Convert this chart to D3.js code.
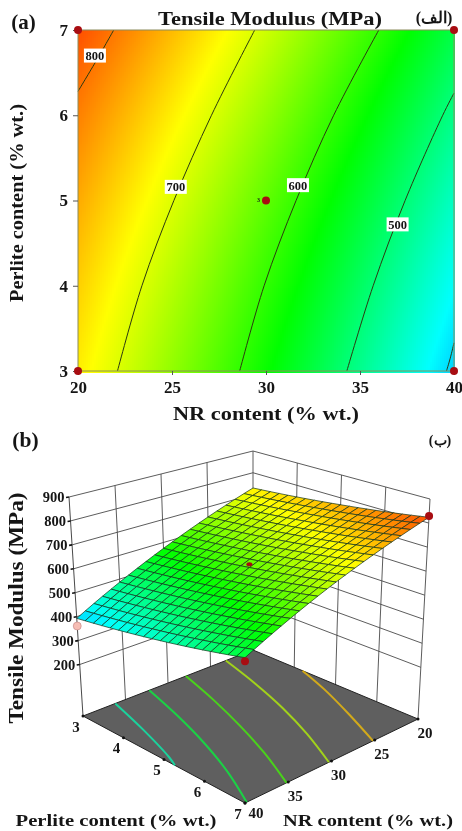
<!DOCTYPE html>
<html><head><meta charset="utf-8">
<script src="https://cdnjs.cloudflare.com/ajax/libs/d3/7.8.5/d3.min.js"></script>
<style>html,body{margin:0;padding:0;background:#fff;overflow:hidden}svg{display:block;filter:blur(0.35px)}text{font-family:"Liberation Serif",serif;font-weight:bold;fill:#151515}</style>
</head><body><svg id="c" width="462" height="831"></svg>
<script>
// ---- data ----
const nrValues=[20,25,30,35,40];
const perliteValues=[3,4,5,6,7];
const modulusP3=[730,655.5,574.5,487,393];
const modulusP4=[748,676.5,598.5,513.5,422];
const modulusP5=[770,701,626,543.5,454.5];
const modulusP6=[795,729,657,577,490.5];
const modulusP7=[824,760.5,691,614,530];
const modulusRows=[modulusP3,modulusP4,modulusP5,modulusP6,modulusP7];
const colorStops=[270,420,570,720,870];
const colorNames=["#0000ff","#00ffff","#00ff00","#ffff00","#ff0000"];
// contour lines of panel (a), [NR, perlite]
const contour800=[[21.9,7],[21.0,6.65],[20,6.28]];
const contour700=[[22.1,3],[23.4,4],[25.1,5],[27.1,6],[29.4,7]];
const contour600=[[28.6,3],[29.9,4],[31.6,5],[33.6,6],[36,7]];
const contour500=[[34.3,3],[35.7,4],[37.4,5],[39.4,6],[40,6.26]];
const contour400=[[39.6,3],[39.8,3.15],[40,3.33]];
const contourLines=[contour800,contour700,contour600,contour500,contour400];
const contourLabels=[["800",20.9,6.7],["700",25.2,5.16],["600",31.7,5.18],["500",37,4.72]];
const designPoints2D=[[20,7],[40,7],[20,3],[40,3],[30,5]];
// floor contours of panel (b), [NR, perlite]
const floorLevels=[464,536,608,680,753];
const floorLine464=[[36.2,3],[37.7,4],[39.4,5],[40,5.27]];
const floorLine536=[[32.2,3],[33.7,4],[35.4,5],[37.4,6],[39.8,7]];
const floorLine608=[[27.9,3],[29.4,4],[31.1,5],[33,6],[35.2,7]];
const floorLine680=[[23.2,3],[24.6,4],[26.2,5],[28.1,6],[30.3,7]];
const floorLine753=[[20,4.2],[21.3,5],[23.2,6],[25.2,7]];
const floorLines=[floorLine464,floorLine536,floorLine608,floorLine680,floorLine753];
const designPoints3D=[[20,7,829,"#a80d12"],[40,7,517,"#a80d12"],[40,3,361,"#f6bdb4"]];
const centerPoint3D=[30,5,640];
const zTicks=[200,300,400,500,600,700,800,900];
const nrTicks=[20,25,30,35,40];
const perliteTicks=[3,4,5,6,7];

const svg=d3.select("#c");
const color=d3.scaleLinear().domain(colorStops).range(colorNames).clamp(true);
const DOT="#a80d12";
function cr(p0,p1,p2,p3,t){return .5*(2*p1+(p2-p0)*t+(2*p0-5*p1+4*p2-p3)*t*t+(3*p1-p0-3*p2+p3)*t*t*t);}
function interp(arr,f){const n=arr.length,i=Math.min(n-2,Math.max(0,Math.floor(f))),t=f-i;
  const g=k=>k<0?3*arr[0]-3*arr[1]+arr[2]:k>=n?3*arr[n-1]-3*arr[n-2]+arr[n-3]:arr[k];
  return cr(g(i-1),g(i),g(i+1),g(i+2),t);}
const nrIdx=d3.scaleLinear().domain([20,40]).range([0,4]);
const pIdx=d3.scaleLinear().domain([3,7]).range([0,4]);
function modulus(nr,p){const fx=nrIdx(nr),fy=pIdx(p);return interp(modulusRows.map(r=>interp(r,fx)),fy);}

// ---------- panel (a) ----------
const x=d3.scaleLinear().domain([20,40]).range([78,454]);
const y=d3.scaleLinear().domain([3,7]).range([371,30]);
const cells=[];const step=2;
for(let px=78;px<454;px+=step)for(let py=30;py<371;py+=step)cells.push([px,py]);
svg.append("g").attr("shape-rendering","crispEdges").selectAll("rect").data(cells).join("rect")
 .attr("x",d=>d[0]).attr("y",d=>d[1]).attr("width",step+.5).attr("height",step+.5)
 .attr("fill",d=>color(modulus(x.invert(d[0]+1),y.invert(d[1]+1))));
const line2=d3.line().x(d=>x(d[0])).y(d=>y(d[1])).curve(d3.curveCatmullRom);
svg.append("g").selectAll("path").data(contourLines).join("path").attr("d",line2).attr("fill","none").attr("stroke","#2c3a10").attr("stroke-width",1);
svg.append("rect").attr("x",78).attr("y",30).attr("width",376).attr("height",341).attr("fill","none").attr("stroke","#8c8c5c").attr("stroke-width",1);
const lab=svg.append("g").selectAll("g").data(contourLabels).join("g").attr("transform",d=>`translate(${x(d[1])},${y(d[2])})`);
lab.append("rect").attr("x",-11).attr("y",-7).attr("width",22).attr("height",14).attr("fill","#fff");
lab.append("text").attr("text-anchor","middle").attr("dy","0.35em").attr("font-size",12.5).text(d=>d[0]);
const ax=d3.axisBottom(x).tickValues(nrTicks).tickSize(4).tickPadding(6).tickFormat(d3.format("d"));
const gx=svg.append("g").attr("transform","translate(0,371)").call(ax);
const ay=d3.axisLeft(y).tickValues(perliteTicks).tickSize(5).tickPadding(5).tickFormat(d3.format("d"));
const gy=svg.append("g").attr("transform","translate(78,0)").call(ay);
[gx,gy].forEach(g=>{g.select(".domain").remove();g.selectAll("line").attr("stroke","#555");
 g.selectAll("text").attr("font-size",17).attr("font-family",null).style("font-family",'"Liberation Serif",serif');});
svg.append("g").selectAll("circle").data(designPoints2D).join("circle").attr("cx",d=>x(d[0])).attr("cy",d=>y(d[1])).attr("r",4).attr("fill",DOT);
svg.append("text").attr("x",257).attr("y",202).attr("font-size",6).text("3");

function label(t,px,py,size,rot,len,anchor){const e=svg.append("text").attr("font-size",size).attr("text-anchor",anchor||"middle").text(t);
 e.attr("transform",`translate(${px},${py})`+(rot?` rotate(${rot})`:""));
 if(len)e.attr("textLength",len).attr("lengthAdjust","spacingAndGlyphs");return e;}
label("Tensile Modulus (MPa)",270,25,19,0,224);
label("(a)",23.5,29,21,0);
label("NR content (% wt.)",266,420,19,0,186);
label("Perlite content (% wt.)",23,203,19,-90,198);
label("(الف)",434,23,16,0).style("direction","rtl");
label("(b)",25.5,447,21.5,0);
label("(ب)",440,445,14,0).style("direction","rtl");

// ---------- panel (b) ----------
const nrU=d3.scaleLinear().domain([40,20]).range([0,1]);
const pV=d3.scaleLinear().domain([3,7]).range([0,1]);
const zW=d3.scaleLinear().domain([-15,900]).range([0,1]);
const boxFloor={L:[83,716],B:[253,650],F:[245,803],R:[418,719]};
const boxTop={L:[69,497],B:[253,451],F:[245,559],R:[430,499]};
function bil(c,u,v,i){return (1-u)*(1-v)*c.L[i]+u*(1-v)*c.B[i]+(1-u)*v*c.F[i]+u*v*c.R[i];}
function proj(nr,p,z){const u=nrU(nr),v=pV(p),w=zW(z);
 return [0,1].map(i=>bil(boxFloor,u,v,i)*(1-w)+bil(boxTop,u,v,i)*w);}
const G=svg.append("g");
const seg=(a,b,col,sw)=>G.append("line").attr("x1",a[0]).attr("y1",a[1]).attr("x2",b[0]).attr("y2",b[1]).attr("stroke",col||"#4a4a4a").attr("stroke-width",sw||.9);
zTicks.forEach(z=>{seg(proj(40,3,z),proj(20,3,z));seg(proj(20,3,z),proj(20,7,z));});
[35,30,25].forEach(n=>seg(proj(n,3,-15),proj(n,3,900)));
[4,5,6].forEach(p=>seg(proj(20,p,-15),proj(20,p,900)));
seg(proj(40,3,-15),proj(40,3,900),"#333");seg(proj(20,3,-15),proj(20,3,900));seg(proj(20,7,-15),proj(20,7,900));
const floorPoly=[proj(40,3,-15),proj(20,3,-15),proj(20,7,-15),proj(40,7,-15)];
G.append("polygon").attr("points",floorPoly.map(d=>d.join(",")).join(" ")).attr("fill","#5f5f5f").attr("stroke","#222").attr("stroke-width",1);
const line3=d3.line().x(d=>proj(d[0],d[1],-15)[0]).y(d=>proj(d[0],d[1],-15)[1]).curve(d3.curveCatmullRom);
G.append("g").selectAll("path").data(floorLines).join("path").attr("d",line3).attr("fill","none")
 .attr("stroke",(d,i)=>color(floorLevels[i])).attr("stroke-opacity",.72).attr("stroke-width",2);
perliteTicks.forEach(p=>{const a=proj(40,p,-15);G.append("circle").attr("cx",a[0]).attr("cy",a[1]).attr("r",1.5).attr("fill","#111");
 G.append("text").attr("x",a[0]-7).attr("y",a[1]+15.5).attr("text-anchor","middle").attr("font-size",15).text(p);});
nrTicks.forEach(n=>{const a=proj(n,7,-15);G.append("circle").attr("cx",a[0]).attr("cy",a[1]).attr("r",1.5).attr("fill","#111");
 G.append("text").attr("x",a[0]+(n==40?11:7)).attr("y",a[1]+(n==40?14.5:18.5)).attr("text-anchor","middle").attr("font-size",15).text(n);});
zTicks.forEach(z=>{const a=proj(40,3,z);seg([a[0]-3,a[1]+.5],a,"#111",1.6);
 G.append("text").attr("x",a[0]-4.5).attr("y",a[1]+5).attr("text-anchor","end").attr("font-size",14.5).text(z);});
const meshN=20,meshCells=[];
for(let j=0;j<meshN;j++)for(let i=0;i<meshN;i++){
 const n0=20+20*i/meshN,n1=20+20*(i+1)/meshN,p0=3+4*j/meshN,p1=3+4*(j+1)/meshN;
 const c=[[n0,p0],[n1,p0],[n1,p1],[n0,p1]];
 meshCells.push({pts:c.map(q=>proj(q[0],q[1],modulus(q[0],q[1]))),z:d3.mean(c,q=>modulus(q[0],q[1]))});}
G.append("g").selectAll("polygon").data(meshCells).join("polygon").attr("points",d=>d.pts.map(q=>q.join(",")).join(" "))
 .attr("fill",d=>color(d.z)).attr("stroke","#10301a").attr("stroke-width",.7);
G.append("g").selectAll("circle").data(designPoints3D).join("circle").attr("cx",d=>proj(d[0],d[1],d[2])[0]).attr("cy",d=>proj(d[0],d[1],d[2])[1]).attr("r",4).attr("fill",d=>d[3]).attr("stroke",d=>d[3]==DOT?"none":"#c08080").attr("stroke-width",.6);
{const a=proj(...centerPoint3D);G.append("ellipse").attr("cx",a[0]).attr("cy",a[1]).attr("rx",3).attr("ry",2).attr("fill",DOT);}
label("Tensile Modulus (MPa)",23,608,21,-90,231);
label("Perlite content (% wt.)",116,826,17.5,0,201);
label("NR content (% wt.)",368,826,17.5,0,170);
</script></body></html>
